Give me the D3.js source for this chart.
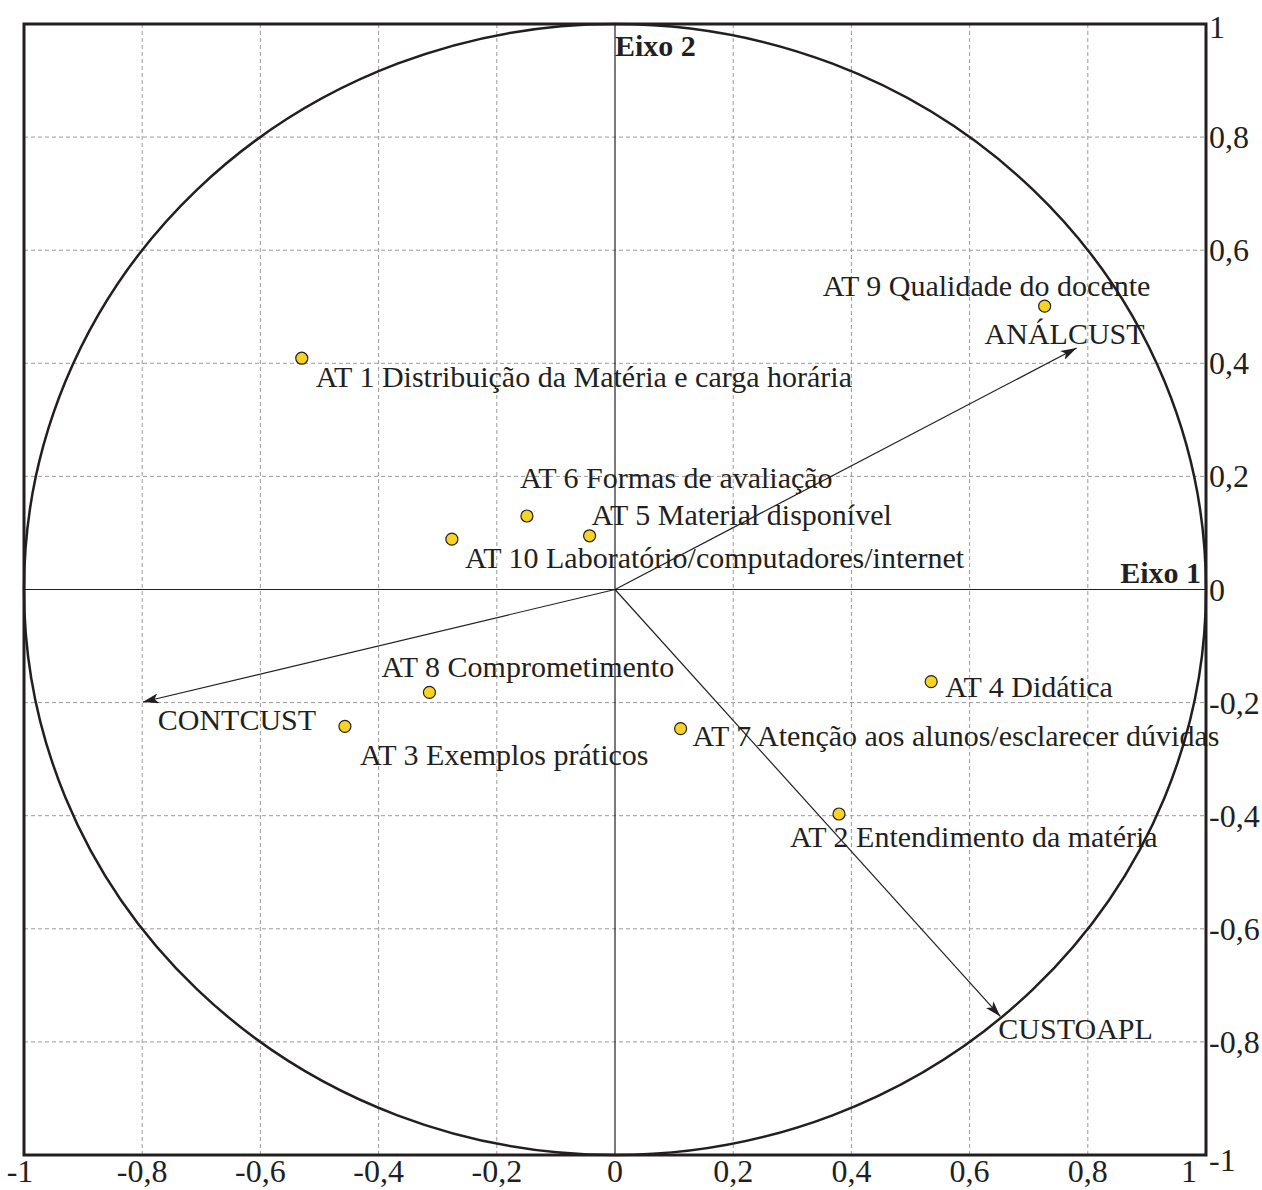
<!DOCTYPE html>
<html>
<head>
<meta charset="utf-8">
<script src="https://cdn.jsdelivr.net/npm/d3@7"></script>
<style>
  html, body { margin: 0; padding: 0; background: #fff; }
  svg { display: block; }
  text { font-family: "Liberation Serif", "Times New Roman", serif; fill: #231f20; }
</style>
</head>
<body>
<svg id="chart" width="1262" height="1190"></svg>
<script>
// ---- data ----
const pointLabels = [
  "AT 1 Distribuição da Matéria e carga horária",
  "AT 2 Entendimento da matéria",
  "AT 3 Exemplos práticos",
  "AT 4 Didática",
  "AT 5 Material disponível",
  "AT 6 Formas de avaliação",
  "AT 7 Atenção aos alunos/esclarecer dúvidas",
  "AT 8 Comprometimento",
  "AT 9 Qualidade do docente",
  "AT 10 Laboratório/computadores/internet"
];
const pointX = [-0.530, 0.379, -0.457, 0.535, -0.043, -0.149, 0.111, -0.314, 0.727, -0.276];
const pointY = [0.409, -0.397, -0.242, -0.163, 0.095, 0.130, -0.246, -0.182, 0.501, 0.089];

const vectorLabels = ["ANÁLCUST", "CONTCUST", "CUSTOAPL"];
const vectorX = [0.781, -0.799, 0.652];
const vectorY = [0.427, -0.199, -0.755];

const xTickValues = [-1, -0.8, -0.6, -0.4, -0.2, 0, 0.2, 0.4, 0.6, 0.8, 1];
const yTickValues = [1, 0.8, 0.6, 0.4, 0.2, 0, -0.2, -0.4, -0.6, -0.8, -1];
const gridValues = [-0.8, -0.6, -0.4, -0.2, 0.2, 0.4, 0.6, 0.8];
const axisTitles = ["Eixo 1", "Eixo 2"];

// ---- layout (label offsets in px, relative to marks) ----
const pointLabelOffsets = [[14, 29], [-49, 33], [15, 39], [14, 15], [2, -11], [-7, -28], [12, 17], [-48, -15], [-222, -10], [13, 29]];
const vectorLabelOffsets = [[-92, -4], [15, 28], [-2, 23]];

const fmt = v => String(v).replace(".", ",");

const svg = d3.select("#chart");
const x = d3.scaleLinear().domain([-1, 1]).range([24, 1206]);
const y = d3.scaleLinear().domain([-1, 1]).range([1155, 24]);

// grid
const g = svg.append("g");
g.selectAll("line.vg").data(gridValues).join("line")
  .attr("x1", d => x(d)).attr("x2", d => x(d))
  .attr("y1", y(1)).attr("y2", y(-1))
  .attr("stroke", "#9a9a9a").attr("stroke-width", 1).attr("stroke-dasharray", "4,3");
g.selectAll("line.hg").data(gridValues).join("line")
  .attr("y1", d => y(d)).attr("y2", d => y(d))
  .attr("x1", x(-1)).attr("x2", x(1))
  .attr("stroke", "#9a9a9a").attr("stroke-width", 1).attr("stroke-dasharray", "4,3");

// axes through origin
svg.append("line").attr("x1", x(-1)).attr("x2", x(1)).attr("y1", y(0)).attr("y2", y(0))
  .attr("stroke", "#231f20").attr("stroke-width", 1.2);
svg.append("line").attr("x1", x(0)).attr("x2", x(0)).attr("y1", y(1)).attr("y2", y(-1))
  .attr("stroke", "#231f20").attr("stroke-width", 1.2);

// unit circle
svg.append("ellipse")
  .attr("cx", x(0)).attr("cy", y(0))
  .attr("rx", (x(1) - x(-1)) / 2).attr("ry", (y(-1) - y(1)) / 2)
  .attr("fill", "none").attr("stroke", "#231f20").attr("stroke-width", 2.5);

// frame
svg.append("rect")
  .attr("x", x(-1)).attr("y", y(1))
  .attr("width", x(1) - x(-1)).attr("height", y(-1) - y(1))
  .attr("fill", "none").attr("stroke", "#231f20").attr("stroke-width", 3);

// ticks labels x
svg.append("g").selectAll("text").data(xTickValues).join("text")
  .attr("x", d => x(d) + (d === -1 ? -4 : d === 1 ? -17 : 0))
  .attr("y", 1182)
  .attr("text-anchor", "middle")
  .attr("font-size", 32)
  .text(d => fmt(d));

// ticks labels y
svg.append("g").selectAll("text").data(yTickValues).join("text")
  .attr("x", 1209)
  .attr("y", d => y(d) + 11 + (d === 1 ? 3 : d === -1 ? 5 : 0))
  .attr("text-anchor", "start")
  .attr("font-size", 32)
  .text(d => fmt(d));

// axis titles
svg.append("text").attr("x", x(1) - 5).attr("y", y(0) - 7)
  .attr("text-anchor", "end").attr("font-size", 30).attr("font-weight", "bold")
  .text(axisTitles[0]);
svg.append("text").attr("x", x(0)).attr("y", y(1) + 32)
  .attr("text-anchor", "start").attr("font-size", 30).attr("font-weight", "bold")
  .text(axisTitles[1]);

// arrow marker
svg.append("defs").append("marker")
  .attr("id", "arrow").attr("viewBox", "0 0 16 10")
  .attr("refX", 16).attr("refY", 5)
  .attr("markerWidth", 16).attr("markerHeight", 10)
  .attr("markerUnits", "userSpaceOnUse")
  .attr("orient", "auto")
  .append("path").attr("d", "M0,0 L16,5 L0,10 L4,5 Z").attr("fill", "#231f20");

const vectors = vectorLabels.map((name, i) => ({ name, vx: vectorX[i], vy: vectorY[i], off: vectorLabelOffsets[i] }));
svg.append("g").selectAll("line").data(vectors).join("line")
  .attr("x1", x(0)).attr("y1", y(0))
  .attr("x2", d => x(d.vx)).attr("y2", d => y(d.vy))
  .attr("stroke", "#231f20").attr("stroke-width", 1.2)
  .attr("marker-end", "url(#arrow)");
svg.append("g").selectAll("text").data(vectors).join("text")
  .attr("x", d => x(d.vx) + d.off[0])
  .attr("y", d => y(d.vy) + d.off[1])
  .attr("font-size", 30)
  .text(d => d.name);

// points
const points = pointLabels.map((name, i) => ({ name, px: pointX[i], py: pointY[i], off: pointLabelOffsets[i] }));
svg.append("g").selectAll("circle").data(points).join("circle")
  .attr("cx", d => x(d.px)).attr("cy", d => y(d.py)).attr("r", 6)
  .attr("fill", "#f9d324").attr("stroke", "#231f20").attr("stroke-width", 1.2);
svg.append("g").selectAll("text").data(points).join("text")
  .attr("x", d => x(d.px) + d.off[0])
  .attr("y", d => y(d.py) + d.off[1])
  .attr("font-size", 30)
  .text(d => d.name);
</script>
</body>
</html>
